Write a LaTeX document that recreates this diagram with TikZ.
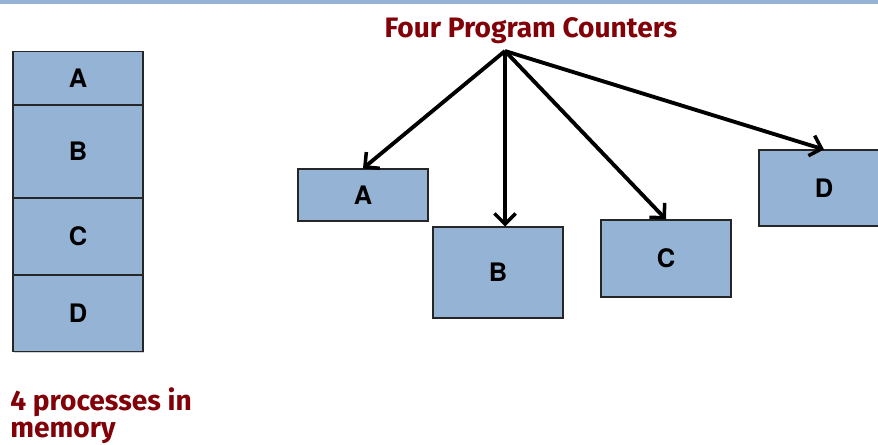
\documentclass[tikz,border=0pt]{standalone}
\usepackage{fontspec}
\newfontfamily\boxfont{TeX Gyre Heros}
\newfontfamily\notefont{Fira Sans}
\definecolor{BoxBlue}{RGB}{149,179,212}
\definecolor{NoteRed}{RGB}{130,0,8}
\usetikzlibrary{arrows.meta,positioning,shadows}

\begin{document}
\begin{tikzpicture}[x=0.02cm, y=-0.02cm,
        proc/.style={rectangle, draw=black!85, fill=BoxBlue, line width=0.6pt,
                     minimum width=2.6cm, inner sep=0pt,
                     font=\boxfont\fontsize{14.5}{16}\selectfont\bfseries,
                     drop shadow={shadow xshift=0.6pt, shadow yshift=-0.8pt, opacity=0.35}},
        note/.style={font=\notefont\fontsize{16}{15.5}\selectfont\bfseries, text=NoteRed},
        pcarr/.style={-{Straight Barb[length=6pt,width=12pt,line width=2pt]}, line width=2.2pt, black}
      ]
        \useasboundingbox (0,0) rectangle (878,444);
        \clip (0,0) rectangle (878,444);
        \fill[BoxBlue] (0,0) rectangle (878,4);
        % Memory layout
        \node[proc, minimum height=1.06cm, anchor=north] (mA) at (78,51) {A};
        \node[proc, minimum height=1.84cm, below=0pt of mA] (mB) {B};
        \node[proc, minimum height=1.52cm, below=0pt of mB] (mC) {C};
        \node[proc, minimum height=1.52cm, below=0pt of mC] (mD) {D};
        \node[note, anchor=north west, align=left, inner sep=0pt] (mem) at (10,387) {4 processes in\\memory};
        % Program counters
        \node[note, inner sep=0pt] (title) at (531,31) {Four Program Counters};
        \coordinate (pc) at (505,51);
        \node[proc, minimum height=1.04cm] (pA) at (363,195) {A};
        \node[proc, minimum height=1.82cm] (pB) at (498,272.5) {B};
        \node[proc, minimum height=1.54cm] (pC) at (666,258.5) {C};
        \node[proc, minimum height=1.52cm] (pD) at (824,188) {D};
        \draw[pcarr] (pc) -- (pA.north);
        \draw[pcarr] (pc) -- (pc |- pB.north);
        \draw[pcarr] (pc) -- (pC.north);
        \draw[pcarr] (pc) -- (pD.north);
      \end{tikzpicture}
\end{document}
